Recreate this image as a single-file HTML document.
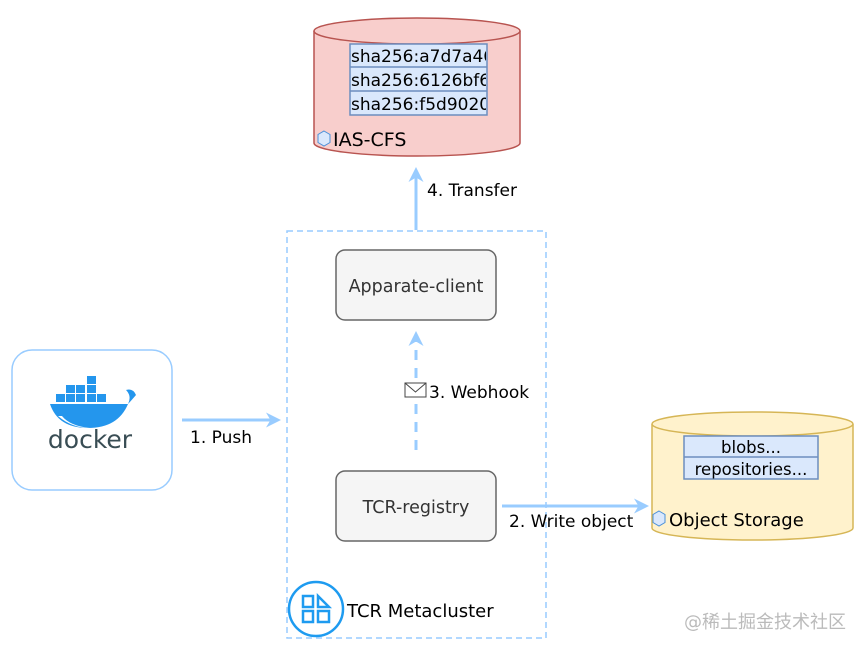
<!DOCTYPE html>
<html><head><meta charset="utf-8"><style>
body{margin:0;background:#fff;}
svg text{font-family:"DejaVu Sans","Liberation Sans","Noto Sans CJK SC",sans-serif;}
</style></head><body>
<svg width="864" height="652" viewBox="0 0 864 652" xmlns="http://www.w3.org/2000/svg">
<defs>
<marker id="ah" viewBox="0 0 10 10" refX="8" refY="5" markerWidth="5" markerHeight="5" orient="auto"><path d="M0,0 L10,5 L0,10 L3,5z" fill="#99ccff"/></marker>
</defs>
<!-- IAS-CFS cylinder -->
<path d="M314,31 L314,143 A103,13 0 0 0 520,143 L520,31" fill="#f8cecc" stroke="#b85450" stroke-width="1.5"/>
<ellipse cx="417" cy="31" rx="103" ry="13" fill="#f8cecc" stroke="#b85450" stroke-width="1.5"/>
<rect x="350" y="44" width="137" height="71" fill="#dae8fc" stroke="#6c8ebf" stroke-width="1.5"/>
<line x1="350" y1="67" x2="487" y2="67" stroke="#6c8ebf" stroke-width="1.5"/>
<line x1="350" y1="91" x2="487" y2="91" stroke="#6c8ebf" stroke-width="1.5"/>
<clipPath id="c1"><rect x="350" y="44" width="136" height="71"/></clipPath>
<g clip-path="url(#c1)" font-size="17" fill="#000">
<text x="351" y="62">sha256:a7d7a46</text>
<text x="351" y="86">sha256:6126bf65</text>
<text x="351" y="110">sha256:f5d90208</text>
</g>
<polygon points="324,131 330,134.5 330,142.5 324,146 318,142.5 318,134.5" fill="#dae8fc" stroke="#4a90d9" stroke-width="1"/>
<text x="333" y="146" font-size="19" fill="#000">IAS-CFS</text>
<!-- transfer -->
<line x1="416" y1="230" x2="416" y2="170" stroke="#99ccff" stroke-width="3" marker-end="url(#ah)"/>
<text x="427" y="196" font-size="17" fill="#000">4. Transfer</text>
<!-- container -->
<rect x="287" y="231" width="259" height="407" fill="none" stroke="#99ccff" stroke-width="1.5" stroke-dasharray="6,4"/>
<rect x="336" y="250" width="160" height="70" rx="9" fill="#f5f5f5" stroke="#666" stroke-width="1.5"/>
<text x="416" y="292" font-size="17.5" fill="#333" text-anchor="middle">Apparate-client</text>
<rect x="336" y="471" width="160" height="70" rx="9" fill="#f5f5f5" stroke="#666" stroke-width="1.5"/>
<text x="416" y="513" font-size="17.5" fill="#333" text-anchor="middle">TCR-registry</text>
<line x1="416" y1="450" x2="416" y2="334" stroke="#99ccff" stroke-width="3" stroke-dasharray="10,8" marker-end="url(#ah)"/>
<rect x="404" y="381" width="24" height="18" fill="#fff"/>
<rect x="405" y="383" width="21" height="14" fill="#fff" stroke="#444" stroke-width="1"/>
<path d="M405,383 L415.5,392 L426,383" fill="none" stroke="#444" stroke-width="1"/>
<text x="429" y="398" font-size="17" fill="#000">3. Webhook</text>
<!-- write object -->
<line x1="502" y1="506" x2="646" y2="506" stroke="#99ccff" stroke-width="3" marker-end="url(#ah)"/>
<text x="509" y="527" font-size="17" fill="#000">2. Write object</text>
<!-- object storage -->
<path d="M652,424 L652,528 A100.5,12 0 0 0 853,528 L853,424" fill="#fff2cc" stroke="#d6b656" stroke-width="1.5"/>
<ellipse cx="752.5" cy="424" rx="100.5" ry="12" fill="#fff2cc" stroke="#d6b656" stroke-width="1.5"/>
<rect x="684" y="436" width="134" height="43" fill="#dae8fc" stroke="#6c8ebf" stroke-width="1.5"/>
<line x1="684" y1="457" x2="818" y2="457" stroke="#6c8ebf" stroke-width="1.5"/>
<text x="751" y="453" font-size="16.5" text-anchor="middle" fill="#000">blobs...</text>
<text x="751" y="475" font-size="16.5" text-anchor="middle" fill="#000">repositories...</text>
<polygon points="659,511 665,514.5 665,522.5 659,526 653,522.5 653,514.5" fill="#dae8fc" stroke="#4a90d9" stroke-width="1"/>
<text x="669" y="526" font-size="18" fill="#000">Object Storage</text>
<!-- docker -->
<rect x="12" y="350" width="160" height="140" rx="20" fill="#fff" stroke="#99ccff" stroke-width="1.5"/>
<g fill="#2496ed">
<rect x="87" y="376" width="9" height="8"/>
<rect x="66" y="385" width="9" height="8"/><rect x="76" y="385" width="9" height="8"/><rect x="87" y="385" width="9" height="8"/>
<rect x="66" y="394" width="9" height="8"/><rect x="76" y="394" width="9" height="8"/><rect x="87" y="394" width="9" height="8"/><rect x="97" y="394" width="9" height="8"/><rect x="56" y="394" width="9" height="8"/>
<path d="M50,404 L128,404 Q132,396 126,390 Q133,388 136,395 Q130,402 128,404 Q118,428 88,428 Q58,428 50,404z" fill="#2496ed"/>
</g>
<path d="M58,416 Q72,428 90,428 Q70,426 62,416z" fill="#fff"/>
<text x="90" y="448" font-size="25" fill="#394d54" text-anchor="middle" font-family="Liberation Sans">docker</text>
<line x1="182" y1="420" x2="278" y2="420" stroke="#99ccff" stroke-width="3" marker-end="url(#ah)"/>
<text x="190" y="443" font-size="17" fill="#000">1. Push</text>
<!-- TCR icon -->
<circle cx="316" cy="609" r="27" fill="#fff" stroke="#1e9bf0" stroke-width="2.5"/>
<g fill="none" stroke="#1e9bf0" stroke-width="2.5">
<rect x="303" y="596" width="10" height="11"/>
<path d="M318,596 L318,607 L329,607z"/>
<rect x="303" y="611" width="10" height="11"/>
<rect x="318" y="611" width="11" height="11"/>
</g>
<text x="347" y="617" font-size="18" fill="#000">TCR Metacluster</text>
<text x="684" y="628" font-size="18" fill="#bbb">@稀土掘金技术社区</text>
</svg>
</body></html>
